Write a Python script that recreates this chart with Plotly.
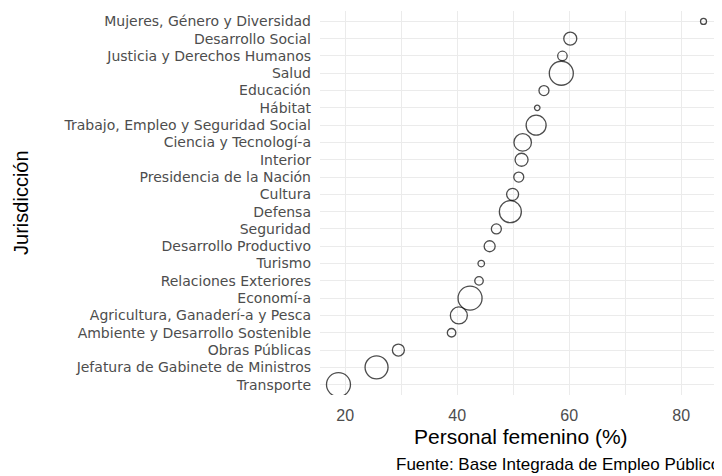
import plotly.graph_objects as go

# Jurisdicciones (de arriba hacia abajo, como en el gráfico)
jurisdicciones = [
    'Mujeres, Género y Diversidad', 'Desarrollo Social', 'Justicia y Derechos Humanos',
    'Salud', 'Educación', 'Hábitat', 'Trabajo, Empleo y Seguridad Social',
    'Ciencia y Tecnologí-a', 'Interior', 'Presidencia de la Nación', 'Cultura',
    'Defensa', 'Seguridad', 'Desarrollo Productivo', 'Turismo',
    'Relaciones Exteriores', 'Economí-a', 'Agricultura, Ganaderí-a y Pesca',
    'Ambiente y Desarrollo Sostenible', 'Obras Públicas',
    'Jefatura de Gabinete de Ministros', 'Transporte',
]
# Porcentaje de personal femenino
pct_femenino = [84.0, 60.2, 58.8, 58.6, 55.5, 54.3, 54.1, 51.7, 51.5, 51.0, 49.9,
                49.5, 47.0, 45.8, 44.3, 43.9, 42.3, 40.3, 39.0, 29.5, 25.6, 18.8]
# Tamaño relativo del punto (dotación)
tamano = [6, 13, 9.5, 24, 10, 5.5, 20, 17.5, 13, 10, 12,
          22, 10, 11, 6.5, 8.5, 24, 17, 8.5, 12, 23, 24]

x_ticks = [20, 40, 60, 80]

fuente = 'Liberation Sans, Arial, sans-serif'

fig = go.Figure()

fig.add_trace(go.Scatter(
    x=pct_femenino,
    y=jurisdicciones,
    mode='markers',
    marker=dict(symbol='circle-open', size=tamano, sizemode='diameter',
                color='black', line=dict(width=1.3, color='black')),
    showlegend=False,
))

# la página tiene 8px de margen, por eso 714x468
fig.update_layout(
    width=714, height=468,
    margin=dict(l=312, r=0, t=3, b=81),
    plot_bgcolor='white', paper_bgcolor='white',
    font=dict(family=fuente),
    xaxis=dict(
        range=[15.5, 87.3], tickvals=x_ticks, automargin=False,
        showgrid=True, gridcolor='#EBEBEB', gridwidth=1.2,
        minor=dict(dtick=10, tick0=0, showgrid=True, gridcolor='#EBEBEB', gridwidth=0.7),
        zeroline=False, showline=False, ticks='', ticklabelstandoff=9,
        tickfont=dict(size=16, color='#4D4D4D'),
    ),
    yaxis=dict(
        type='category', categoryorder='array', categoryarray=jurisdicciones[::-1],
        tickmode='linear', dtick=1, automargin=False,
        range=[-0.6, len(jurisdicciones) - 0.4],
        showgrid=True, gridcolor='#EBEBEB', gridwidth=1.2,
        zeroline=False, showline=False, ticks='', ticklabelstandoff=8,
        tickfont=dict(size=14, color='#4D4D4D', family='DejaVu Sans, sans-serif'),
    ),
    annotations=[
        dict(text='Personal femenino (%)', xref='paper', yref='paper',
             x=0.5, y=-0.109, xanchor='center', yanchor='middle', showarrow=False,
             font=dict(size=21, color='black')),
        dict(text='Jurisdicción', xref='paper', yref='paper', textangle=-90,
             x=-0.744, y=0.5, xanchor='center', yanchor='middle', showarrow=False,
             font=dict(size=20, color='black')),
        dict(text='Fuente: Base Integrada de Empleo Público',
             xref='paper', yref='paper', x=1, y=-0.182,
             xanchor='right', yanchor='middle', showarrow=False,
             font=dict(size=17, color='black')),
    ],
)

fig.write_html("out.html")
